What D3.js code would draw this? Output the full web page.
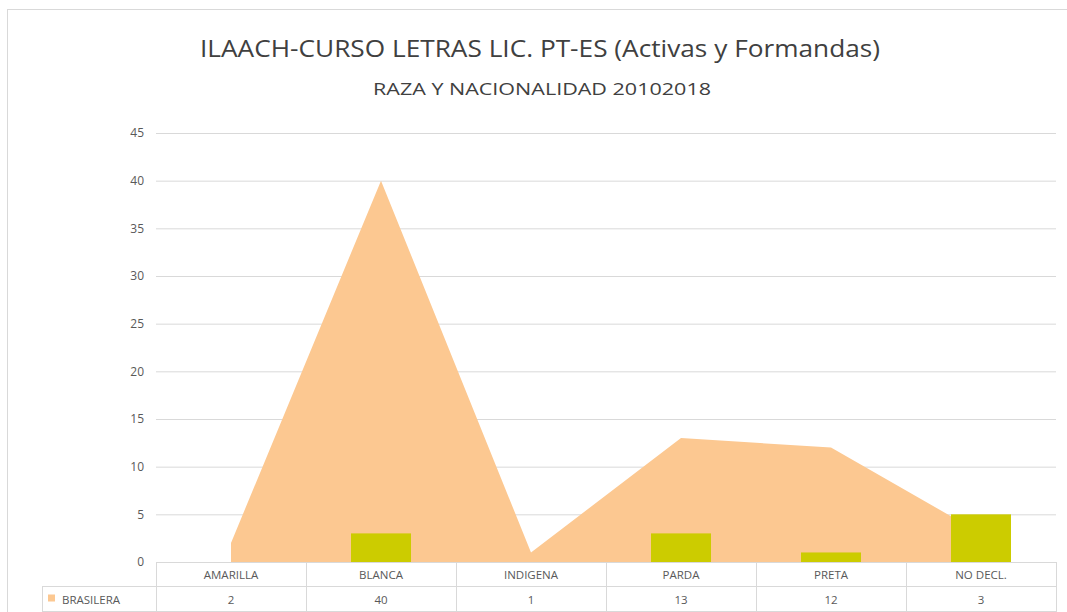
<!DOCTYPE html>
<html lang="es">
<head>
  <meta charset="utf-8">
  <title>Raza y nacionalidad</title>
  <script src="https://d3js.org/d3.v7.min.js"></script>
  <style>
    body { margin: 0; background: #fff; }
    text { font-family: "Open Sans", Roboto, "Liberation Sans", sans-serif; fill: #595959; }
  </style>
</head>
<body>
<div id="chart"></div>
<script>
// categories and series
var categorias = ["AMARILLA", "BLANCA", "INDIGENA", "PARDA", "PRETA", "NO DECL."];
var brasilera = [2, 40, 1, 13, 12, 3];
var extranjera = [0, 3, 0, 3, 1, 5];
var yTicks = [0, 5, 10, 15, 20, 25, 30, 35, 40, 45];

var width = 1067, height = 612;
var marg = {top: 133, right: 11, bottom: 50, left: 156};

var svg = d3.select("#chart")
  .append("svg")
    .attr("width", width)
    .attr("height", height);

// chart frame
svg.append("rect")
  .attr("x", 7.5).attr("y", 9.5)
  .attr("width", width + 20).attr("height", height + 20)
  .attr("fill", "none")
  .attr("stroke", "#d9d9d9");

// titles
svg.append("text")
  .attr("x", 540).attr("y", 57)
  .attr("text-anchor", "middle")
  .attr("font-size", 24)
  .attr("textLength", 680).attr("lengthAdjust", "spacingAndGlyphs")
  .style("fill", "#404040")
  .text("ILAACH-CURSO LETRAS LIC. PT-ES (Activas y Formandas)");
svg.append("text")
  .attr("x", 542).attr("y", 95)
  .attr("text-anchor", "middle")
  .attr("font-size", 17)
  .attr("textLength", 338).attr("lengthAdjust", "spacingAndGlyphs")
  .style("fill", "#404040")
  .text("RAZA Y NACIONALIDAD 20102018");

var x = d3.scaleBand()
  .domain(categorias)
  .range([marg.left, width - marg.right]);

var y = d3.scaleLinear()
  .domain([0, 45])
  .range([height - marg.bottom, marg.top]);

// gridlines + y labels
var yAxis = svg.append("g")
  .attr("transform", "translate(" + marg.left + ",0)")
  .call(d3.axisLeft(y).tickValues(yTicks).tickSize(-(width - marg.right - marg.left)).tickPadding(12));
yAxis.select(".domain").remove();
yAxis.selectAll(".tick line").attr("stroke", "#d9d9d9");
yAxis.selectAll(".tick text")
  .attr("font-size", 12)
  .style("font-family", "\"Open Sans\", Roboto, sans-serif")
  .style("fill", "#595959");

// BRASILERA area
var area = d3.area()
  .x(function(d, i) { return x(categorias[i]) + x.bandwidth() / 2; })
  .y0(y(0))
  .y1(function(d) { return y(d); });

svg.append("path")
  .datum(brasilera)
  .attr("d", area)
  .attr("fill", "#fcc891");

// second series bars
var barW = x.bandwidth() * 0.4;
svg.selectAll(".bar")
  .data(extranjera)
  .enter()
  .append("rect")
    .attr("class", "bar")
    .attr("x", function(d, i) { return x(categorias[i]) + (x.bandwidth() - barW) / 2; })
    .attr("y", function(d) { return y(d); })
    .attr("width", barW)
    .attr("height", function(d) { return y(0) - y(d); })
    .attr("fill", "#cccc00");

// data table
var t0 = y(0), rowH = 24.5;
var tbl = svg.append("g").attr("stroke", "#d9d9d9").attr("shape-rendering", "crispEdges");
tbl.append("line").attr("x1", marg.left).attr("x2", width - marg.right).attr("y1", t0).attr("y2", t0);
tbl.append("line").attr("x1", 42).attr("x2", width - marg.right).attr("y1", t0 + rowH).attr("y2", t0 + rowH);
tbl.append("line").attr("x1", 42).attr("x2", width - marg.right).attr("y1", t0 + rowH * 2).attr("y2", t0 + rowH * 2);
tbl.append("line").attr("x1", 42).attr("x2", 42).attr("y1", t0 + rowH).attr("y2", height);
tbl.selectAll(".vl")
  .data(categorias.concat(["end"]))
  .enter()
  .append("line")
    .attr("x1", function(d, i) { return marg.left + i * x.bandwidth(); })
    .attr("x2", function(d, i) { return marg.left + i * x.bandwidth(); })
    .attr("y1", t0).attr("y2", height);

svg.selectAll(".cat")
  .data(categorias)
  .enter()
  .append("text")
    .attr("x", function(d) { return x(d) + x.bandwidth() / 2; })
    .attr("y", t0 + 17)
    .attr("text-anchor", "middle")
    .attr("font-size", 11.5)
    .text(function(d) { return d; });

svg.selectAll(".val")
  .data(brasilera)
  .enter()
  .append("text")
    .attr("x", function(d, i) { return x(categorias[i]) + x.bandwidth() / 2; })
    .attr("y", t0 + rowH + 17)
    .attr("text-anchor", "middle")
    .attr("font-size", 11.5)
    .text(function(d) { return d; });

// legend key in table
svg.append("rect")
  .attr("x", 48).attr("y", t0 + rowH + 8)
  .attr("width", 7).attr("height", 7)
  .attr("fill", "#fcc891");
svg.append("text")
  .attr("x", 62).attr("y", t0 + rowH + 17)
  .attr("font-size", 11.5)
  .text("BRASILERA");
</script>
</body>
</html>
